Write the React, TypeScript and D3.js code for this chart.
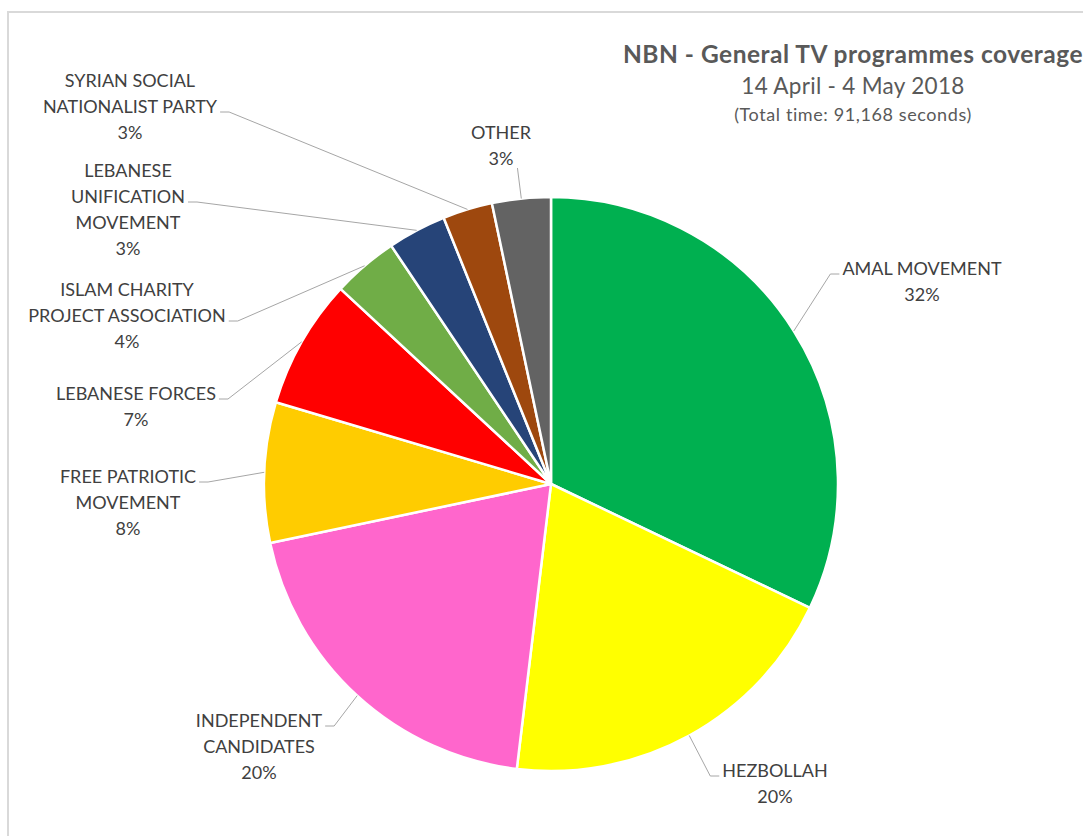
import React, { useEffect, useRef } from 'react';
import * as d3 from 'd3';

// NBN - general TV programmes coverage, share of airtime per party
const parties = [
  'AMAL MOVEMENT',
  'HEZBOLLAH',
  'INDEPENDENT CANDIDATES',
  'FREE PATRIOTIC MOVEMENT',
  'LEBANESE FORCES',
  'ISLAM CHARITY PROJECT ASSOCIATION',
  'LEBANESE UNIFICATION MOVEMENT',
  'SYRIAN SOCIAL NATIONALIST PARTY',
  'OTHER',
];
const shares = [32.1, 19.8, 19.8, 7.9, 7.3, 3.7, 3.3, 2.8, 3.3];
const labelLines = [
  ['AMAL MOVEMENT'],
  ['HEZBOLLAH'],
  ['INDEPENDENT', 'CANDIDATES'],
  ['FREE PATRIOTIC', 'MOVEMENT'],
  ['LEBANESE FORCES'],
  ['ISLAM CHARITY', 'PROJECT ASSOCIATION'],
  ['LEBANESE', 'UNIFICATION', 'MOVEMENT'],
  ['SYRIAN SOCIAL', 'NATIONALIST PARTY'],
  ['OTHER'],
];
const colors = ['#00b050', '#ffff00', '#ff66cc', '#ffcc00', '#ff0000', '#70ad47', '#264478', '#9e480e', '#636363'];

const titleLines = ['NBN - General TV programmes coverage', '14 April - 4 May 2018', '(Total time: 91,168 seconds)'];

// label placement (layout only): centre x, first baseline, line the leader hangs from
const labelLayout = [
  { x: 922, y: 275, hook: 0 },
  { x: 775, y: 777, hook: 0 },
  { x: 259, y: 727, hook: 0 },
  { x: 128, y: 483, hook: 0 },
  { x: 136, y: 400, hook: 0 },
  { x: 127, y: 296, hook: 1 },
  { x: 128, y: 177, hook: 1 },
  { x: 130, y: 87, hook: 1 },
  { x: 501, y: 139, hook: -1 },
];

const W = 1083;
const H = 836;
const FONT = 'Lato, "Open Sans", sans-serif';

export default function App() {
  const ref = useRef<SVGSVGElement>(null);

  useEffect(() => {
    const svg = d3.select(ref.current);
    svg.selectAll('*').remove();

    const cx = 551;
    const cy = 484;
    const r = 287;
    const lineH = 26;

    // chart frame, cropped on the right and bottom
    svg.append('rect')
      .attr('x', 8).attr('y', 12)
      .attr('width', 1200).attr('height', 1000)
      .attr('fill', '#fff')
      .attr('stroke', '#d9d9d9')
      .attr('stroke-width', 2);

    const total = d3.sum(shares);
    const data = parties.map((p, i) => ({ party: p, share: shares[i], i }));
    const pie = d3.pie<any>().sort(null).value((d) => d.share);
    const arcs = pie(data);
    const arc = d3.arc<any>().innerRadius(0).outerRadius(r);
    const edge = d3.arc<any>().innerRadius(r).outerRadius(r);

    const g = svg.append('g').attr('transform', `translate(${cx},${cy})`);
    g.selectAll('path')
      .data(arcs)
      .enter().append('path')
      .attr('d', arc)
      .attr('fill', (d) => colors[d.data.i])
      .attr('stroke', '#fff')
      .attr('stroke-width', 2.5)
      .attr('stroke-linejoin', 'round');

    // titles
    const tx = 853;
    svg.append('text')
      .attr('x', tx).attr('y', 63)
      .attr('text-anchor', 'middle')
      .attr('font-family', FONT).attr('font-weight', 700).attr('font-size', 24.5)
      .attr('letter-spacing', 0.5)
      .attr('fill', '#595959')
      .text(titleLines[0]);
    svg.append('text')
      .attr('x', tx).attr('y', 94)
      .attr('text-anchor', 'middle')
      .attr('font-family', FONT).attr('font-size', 22.5)
      .attr('letter-spacing', 0.3)
      .attr('fill', '#595959')
      .text(titleLines[1]);
    svg.append('text')
      .attr('x', tx).attr('y', 121)
      .attr('text-anchor', 'middle')
      .attr('font-family', FONT).attr('font-size', 18)
      .attr('letter-spacing', 0.6)
      .attr('fill', '#595959')
      .text(titleLines[2]);

    // data labels + leader lines
    arcs.forEach((a) => {
      const i = a.data.i;
      const lay = labelLayout[i];
      const lines = [...labelLines[i], Math.round((shares[i] / total) * 100) + '%'];
      const t = svg.append('text')
        .attr('font-family', FONT).attr('font-size', 18)
        .attr('fill', '#404040')
        .attr('text-anchor', 'middle');
      const spans = lines.map((ln, k) =>
        t.append('tspan').attr('x', lay.x).attr('y', lay.y + k * lineH).text(ln).node() as SVGTSpanElement
      );
      const [ex, ey] = edge.centroid(a);
      const end: [number, number] = [cx + ex, cy + ey];
      let pts: [number, number][];
      if (lay.hook < 0) {
        const last = spans[spans.length - 1];
        const w = last.getComputedTextLength();
        pts = [[lay.x + w / 2 + 4, lay.y + (lines.length - 1) * lineH + 3], end];
      } else {
        const w = spans[lay.hook].getComputedTextLength();
        const y = lay.y + lay.hook * lineH - 1;
        const right = end[0] > lay.x;
        const sx = right ? lay.x + w / 2 + 3 : lay.x - w / 2 - 3;
        const stub = right ? sx + 9 : sx - 9;
        pts = [[sx, y], [stub, y], end];
      }
      svg.append('path')
        .attr('d', d3.line()(pts))
        .attr('fill', 'none')
        .attr('stroke', '#a6a6a6')
        .attr('stroke-width', 1);
    });
  }, []);

  return (
    <svg
      ref={ref}
      width={W}
      height={H}
      style={{ position: 'absolute', left: 0, top: 0, background: '#fff' }}
    />
  );
}
